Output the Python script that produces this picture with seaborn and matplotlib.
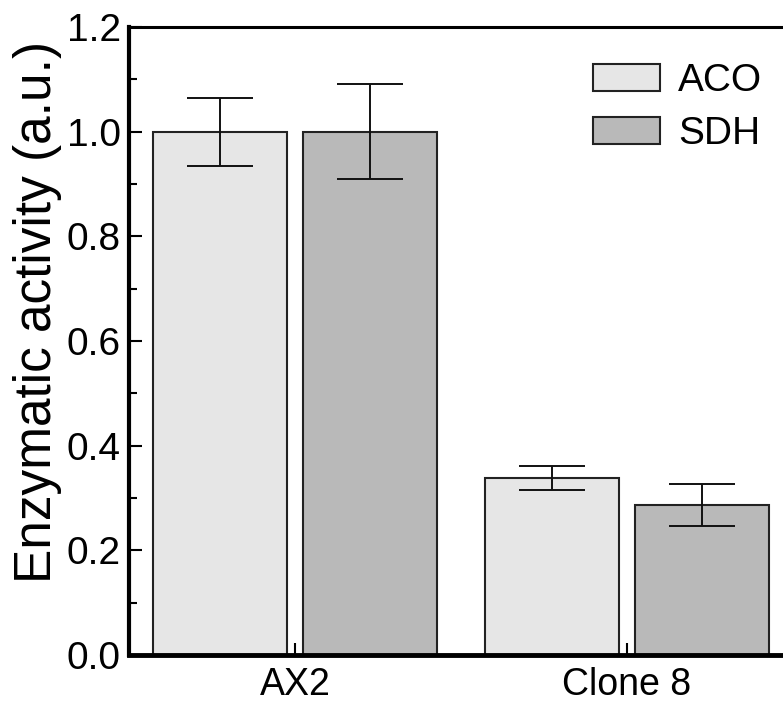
import matplotlib
matplotlib.use("Agg")
import matplotlib.pyplot as plt
import seaborn as sns
import pandas as pd
import numpy as np
from matplotlib.ticker import MultipleLocator, FormatStrFormatter

groups = ["AX2", "Clone 8"]
enzymes = ["ACO", "SDH"]
aco_vals = [1.00, 0.338]
sdh_vals = [1.00, 0.287]
aco_err_lo = [0.065, 0.023]
aco_err_hi = [0.064, 0.024]
sdh_err_lo = [0.090, 0.041]
sdh_err_hi = [0.091, 0.040]
colors = ["#e6e6e6", "#b9b9b9"]

sns.set_style("white")
plt.rcParams['font.family'] = ['Liberation Sans', 'DejaVu Sans']
plt.rcParams['text.color'] = 'black'
plt.rcParams['axes.labelcolor'] = 'black'
plt.rcParams['xtick.color'] = 'black'
plt.rcParams['ytick.color'] = 'black'

df = pd.DataFrame({
    "group": groups * 2,
    "enzyme": [enzymes[0]] * 2 + [enzymes[1]] * 2,
    "value": aco_vals + sdh_vals,
})

fig = plt.figure(figsize=(7.83, 7.02), dpi=100)
ax = fig.add_axes([0.165, 0.067, 0.835, 0.8945])

sns.barplot(data=df, x="group", y="value", hue="enzyme", order=groups,
            hue_order=enzymes, palette=colors, width=0.905, gap=0.11,
            errorbar=None, edgecolor="#222222", linewidth=1.5, ax=ax)

# error bars at bar centres
errs = {enzymes[0]: (aco_vals, aco_err_lo, aco_err_hi),
        enzymes[1]: (sdh_vals, sdh_err_lo, sdh_err_hi)}
for cont, enz in zip(ax.containers, enzymes):
    vals, lo, hi = errs[enz]
    xs = [p.get_x() + p.get_width() / 2 for p in cont.patches]
    ax.errorbar(xs, vals, yerr=[lo, hi], fmt="none", ecolor="#111111",
                elinewidth=1.4, capsize=24, capthick=1.4)

ax.set_xlim(-0.5, 1.47)
ax.set_ylim(0, 1.2)
ax.yaxis.set_major_locator(MultipleLocator(0.2))
ax.yaxis.set_minor_locator(MultipleLocator(0.1))
ax.yaxis.set_major_formatter(FormatStrFormatter("%.1f"))
ax.tick_params(axis="y", which="major", direction="in", length=9, width=1.5,
               labelsize=28, left=True, right=False, pad=6)
ax.tick_params(axis="y", which="minor", direction="in", length=6, width=1.5,
               left=True, right=False)
ax.tick_params(axis="x", which="major", direction="in", length=9, width=1.5,
               labelsize=27, bottom=True, top=False, pad=9)

ax.set_xlabel("")
ax.set_ylabel("Enzymatic activity (a.u.)", fontsize=37)
ax.yaxis.set_label_coords(-0.103, 0.546)

ax.spines["left"].set_linewidth(3)
ax.spines["bottom"].set_linewidth(3.5)
ax.spines["top"].set_linewidth(2.2)
ax.spines["right"].set_visible(False)
for s in ax.spines.values():
    s.set_color("black")

leg = ax.legend(loc="upper right", bbox_to_anchor=(0.992, 0.967), frameon=False,
                fontsize=28, handlelength=1.72, handleheight=0.7,
                handletextpad=0.46, labelspacing=0.43, borderaxespad=0)
for h in leg.get_patches():
    h.set_edgecolor("#222222")
    h.set_linewidth(1.5)

fig.savefig("out.png", dpi=100)
